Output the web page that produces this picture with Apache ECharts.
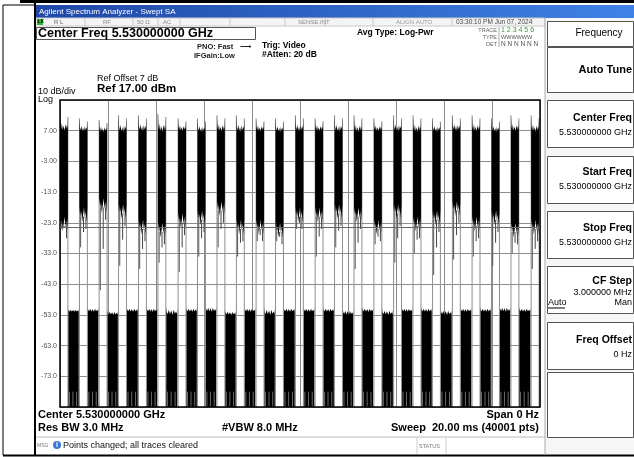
<!DOCTYPE html>
<html>
<head>
<meta charset="utf-8">
<script src="https://cdn.jsdelivr.net/npm/echarts@6/dist/echarts.min.js"></script>
<style>
  html, body { margin: 0; padding: 0; background: #fff; }
  #main { width: 634px; height: 457px; }
</style>
</head>
<body>
<div id="main"></div>
<script>
// reference level / floor (dBm)
const REF = 17;
const FLOOR = -83;

// y tick labels (dBm), top to bottom
const yTicks = ['7.00', '-3.00', '-13.0', '-23.0', '-33.0', '-43.0', '-53.0', '-63.0', '-73.0'];

// high level bursts: start time (ms), burst length (ms)
const HI_W = 0.33;
const hiStart = [0.00, 0.81, 1.63, 2.44, 3.27, 4.08, 4.92, 5.73, 6.54, 7.35, 8.17, 8.98, 9.81,
                 10.63, 11.44, 12.25, 13.08, 13.90, 14.71, 15.52, 16.35, 17.17, 17.98, 18.79, 19.63];
// dBm levels per high burst
const hiTop  = [8.5, 8.2, 8.0, 8.0, 8.3, 8.1, 8.4, 8.0, 8.2, 8.1, 8.3, 8.0, 8.2,
                8.4, 8.1, 8.0, 8.3, 8.2, 8.0, 8.1, 8.4, 8.2, 8.0, 8.3, 8.1];
const hiPeak = [12.5, 11.0, 10.5, 12.0, 12.0, 12.5, 11.0, 11.0, 12.0, 12.0, 11.0, 11.0, 12.0,
                11.0, 12.0, 12.0, 11.0, 12.0, 12.0, 11.0, 12.0, 12.0, 11.0, 12.0, 12.0];
const hiBot  = [-24, -21, -18, -20, -25, -26, -23, -22, -19, -25, -25, -26, -21,
                -21, -20, -21, -25, -20, -24, -22, -19, -24, -22, -26, -25];
const hiTail = [-25, -31, -45, -37, -38, -36, -39, -34, -31, -34, -29, -29, -25,
                -34, -31, -38, -30, -36, -33, -40, -35, -34, -37, -33, -38];

// low level bursts (between high bursts), dBm
const loTop  = [-51, -51, -52, -51, -51, -52, -51, -51, -52, -51, -52, -51,
                -51, -51, -52, -51, -52, -51, -51, -52, -51, -51, -51, -51];
const loPeak = [-50, -49, -50, -49, -49, -48, -49, -48, -50, -49, -48, -49,
                -49, -49, -49, -49, -49, -49, -49, -49, -49, -49, -48, -49];

const DISPLAY_LINE = -24.5;

const hiData = hiStart.map((s, i) => [s, hiTop[i], hiPeak[i], hiBot[i], hiTail[i]]);
const loData = loTop.map((v, i) => [hiStart[i] + HI_W, hiStart[i + 1], v, loPeak[i]]);

// ragged edge profile across a burst (fraction of width, fraction of edge depth)
const EDGE = [[0, 1], [0.06, 0.35], [0.14, 0.1], [0.24, 0.45], [0.34, 0.05], [0.46, 0.3],
              [0.58, 0], [0.68, 0.4], [0.78, 0.1], [0.88, 0.35], [0.95, 0.15], [1, 0.8]];

function seg(p, t, d1, d2, color, lw) {
    const q1 = p(t, d1), q2 = p(t, d2);
    return { type: 'line', shape: { x1: q1[0], y1: q1[1], x2: q2[0], y2: q2[1] },
             style: { stroke: color, lineWidth: lw } };
}

function renderHi(params, api) {
    const s = api.value(0), e = s + HI_W, w = HI_W;
    const top = api.value(1), peak = api.value(2), bot = api.value(3), tail = api.value(4);
    const p = (t, d) => api.coord([t, d - REF]);
    const items = [];
    items.push(seg(p, s, peak, FLOOR, '#8f8f8f', 1));
    items.push(seg(p, e, peak - 1, FLOOR, '#8f8f8f', 1));
    const pts = [];
    EDGE.forEach(([f, k]) => pts.push(p(s + f * w, top - 1.5 + k * (peak - top + 1.5))));
    EDGE.slice().reverse().forEach(([f, k], j) =>
        pts.push(p(s + f * w, bot + 3 - ((j * 7) % 5) * 1.2)));
    items.push({ type: 'polygon', shape: { points: pts }, style: { fill: '#000' } });
    items.push(seg(p, s + 0.05, bot, tail, '#555', 1));
    items.push(seg(p, s + 0.17, bot, (bot + tail) / 2, '#444', 1));
    items.push(seg(p, e - 0.06, bot, bot - 4, '#444', 1));
    return { type: 'group', children: items };
}

function renderLo(params, api) {
    const s = api.value(0) + 0.01, e = api.value(1) - 0.03, w = e - s;
    const top = api.value(2), peak = api.value(3);
    const p = (t, d) => api.coord([t, d - REF]);
    const pts = [p(s, FLOOR)];
    EDGE.forEach(([f, k]) => pts.push(p(s + f * w, top - 1 + (1 - Math.abs(0.5 - f)) * k * (peak - top + 1))));
    pts.push(p(e, FLOOR));
    const items = [{ type: 'polygon', shape: { points: pts }, style: { fill: '#000' } }];
    [s + 0.12 * w, s + 0.45 * w, s + 0.8 * w].forEach(t => items.push(seg(p, t, -78, FLOOR, '#6a6a6a', 1)));
    return { type: 'group', children: items };
}

const FONT = 'Liberation Sans, Arial, sans-serif';
function T(text, x, y, size, opt) {
    opt = opt || {};
    return {
        type: 'text', x: x, y: y, z: 10,
        style: {
            text: text,
            font: (opt.bold ? 'bold ' : '') + size + 'px ' + FONT,
            fill: opt.color || '#000',
            textAlign: opt.align || 'left',
            textVerticalAlign: 'middle'
        }
    };
}
function R(x, y, w, h, fill, stroke, lw) {
    return { type: 'rect', z: 1, shape: { x: x, y: y, width: w, height: h },
             style: { fill: fill || 'none', stroke: stroke || null, lineWidth: lw || 1 } };
}
function L(x1, y1, x2, y2, color, lw) {
    return { type: 'line', z: 2, shape: { x1: x1, y1: y1, x2: x2, y2: y2 },
             style: { stroke: color || '#000', lineWidth: lw || 1 } };
}

const ui = [];
// frame
ui.push(L(3, 5, 3, 455, '#000', 1));
ui.push(L(3, 5, 36, 5, '#000', 1));
ui.push(L(20, 1.5, 634, 1.5, '#000', 3));
ui.push(L(35, 2, 35, 456, '#000', 2));
ui.push(L(3, 455.5, 634, 455.5, '#000', 2));
// title bar
ui.push({ type: 'rect', z: 1, shape: { x: 36, y: 5, width: 598, height: 13 },
          style: { fill: new echarts.graphic.LinearGradient(0, 0, 1, 0, [
              { offset: 0, color: '#1f48a8' }, { offset: 1, color: '#3f82e6' }]) } });
ui.push(T('Agilent Spectrum Analyzer - Swept SA', 39, 11.5, 8, { color: '#fff' }));
// status row
ui.push(R(36, 18, 509, 8, '#f4f4f4', '#c8c8c8'));
ui.push(R(37, 19, 6, 6, '#2fb82f'));
ui.push(T('LX', 37.5, 22, 5, { color: '#000', bold: true }));
[85, 133, 158, 180, 230, 285, 325, 373, 452].forEach(x => ui.push(L(x, 18, x, 26, '#c8c8c8')));
ui.push(T('R L', 54, 22, 6, { color: '#666' }));
ui.push(T('RF', 103, 22, 6, { color: '#888' }));
ui.push(T('50 Ω', 137, 22, 6, { color: '#888' }));
ui.push(T('AC', 163, 22, 6, { color: '#888' }));
ui.push(T('SENSE:INT', 298, 22, 6, { color: '#888' }));
ui.push(T('ALIGN AUTO', 396, 22, 6, { color: '#999' }));
ui.push(T('03:30:10 PM Jun 07, 2024', 456, 22, 6.5, { color: '#444' }));
// center freq box
ui.push(R(36.5, 27.5, 219, 12, '#fff', '#555'));
ui.push(T('Center Freq 5.530000000 GHz', 38, 34, 12.5, { bold: true }));
ui.push(T('PNO: Fast', 197, 47, 7.5, { bold: true, color: '#222' }));
ui.push(T('⟶', 240, 47, 8, { color: '#222' }));
ui.push(T('IFGain:Low', 194, 56, 7.5, { bold: true, color: '#222' }));
ui.push(T('Trig: Video', 262, 46, 8.5, { bold: true }));
ui.push(T('#Atten: 20 dB', 262, 55, 8.5, { bold: true }));
ui.push(T('Avg Type: Log-Pwr', 357, 33, 8.5, { bold: true }));
ui.push(T('TRACE', 497, 30, 5.5, { color: '#666', align: 'right' }));
ui.push(T('TYPE', 497, 37, 5.5, { color: '#666', align: 'right' }));
ui.push(T('DET', 497, 44, 5.5, { color: '#666', align: 'right' }));
ui.push(L(499, 27, 499, 47, '#aaa'));
ui.push(T('1 2 3 4 5 6', 501, 30, 7, { color: '#3a9a3a' }));
ui.push(T('WWWWWW', 501, 37, 5.5, { color: '#555' }));
ui.push(T('N N N N N N', 501, 44, 6.5, { color: '#555' }));
ui.push(T('Ref Offset 7 dB', 97, 79, 9));
ui.push(T('Ref 17.00 dBm', 97, 89, 11.5, { bold: true }));
ui.push(T('10 dB/div', 38, 92, 9));
ui.push(T('Log', 38, 99.5, 9));
// bottom labels
ui.push(T('Center 5.530000000 GHz', 38, 414.5, 11, { bold: true }));
ui.push(T('Res BW 3.0 MHz', 38, 427.5, 11, { bold: true }));
ui.push(T('#VBW 8.0 MHz', 222, 427.5, 11, { bold: true }));
ui.push(T('Span 0 Hz', 539, 414.5, 11, { bold: true, align: 'right' }));
ui.push(T('Sweep  20.00 ms (40001 pts)', 539, 427.5, 11, { bold: true, align: 'right' }));
// message bar
ui.push(L(36, 437, 545, 437, '#bbb'));
ui.push(L(417, 438, 417, 454, '#ccc'));
ui.push(L(446, 438, 446, 454, '#ccc'));
ui.push(T('MSG', 37, 446, 5, { color: '#777' }));
ui.push({ type: 'circle', z: 3, shape: { cx: 57, cy: 445, r: 4 }, style: { fill: '#3a78d8' } });
ui.push(T('i', 57, 445, 7, { bold: true, color: '#fff', align: 'center' }));
ui.push(T('Points changed; all traces cleared', 63, 446, 9, { color: '#111' }));
ui.push(T('STATUS', 419, 446, 5.5, { color: '#777' }));
// softkey panel
ui.push(R(545, 18, 89, 437, '#f6f6f6'));
ui.push(L(545, 18, 545, 455, '#aaa'));
const keys = [
    [21, 46], [47, 92], [100, 147], [156, 203], [211, 258], [266, 313], [322, 369], [372, 437]
];
keys.forEach(([y0, y1]) => {
    ui.push(R(547.5, y0 + 0.5, 86, y1 - y0, '#fff', '#555'));
});
ui.push(T('Frequency', 599, 33, 10, { align: 'center' }));
ui.push(T('Auto Tune', 632, 70, 11, { bold: true, align: 'right' }));
const skLabels = [['Center Freq', 118, 133], ['Start Freq', 172, 187], ['Stop Freq', 228, 243],
                  ['CF Step', 281, 293], ['Freq Offset', 340, 355]];
const skValues = ['5.530000000 GHz', '5.530000000 GHz', '5.530000000 GHz', '3.000000 MHz', '0 Hz'];
skLabels.forEach(([lab, y1, y2], i) => {
    ui.push(T(lab, 632, y1, 10.5, { bold: true, align: 'right' }));
    ui.push(T(skValues[i], 632, y2, 9, { align: 'right' }));
});
ui.push(T('Auto', 548, 303, 9));
ui.push(L(548, 308, 565, 308, '#000'));
ui.push(T('Man', 632, 303, 9, { align: 'right' }));

const chart = echarts.init(document.getElementById('main'), null, { renderer: 'canvas' });
chart.setOption({
    animation: false,
    backgroundColor: '#fff',
    grid: { left: 60, right: 94, top: 100, bottom: 50, show: true, borderColor: '#000', borderWidth: 1.5, z: 5 },
    xAxis: {
        type: 'value', min: 0, max: 20, interval: 2,
        axisLine: { show: false }, axisTick: { show: false }, axisLabel: { show: false },
        splitLine: { show: true, lineStyle: { color: '#8c8c8c', width: 1 } }
    },
    yAxis: {
        type: 'value', min: -100, max: 0, interval: 10,
        axisLine: { show: false }, axisTick: { show: false },
        axisLabel: {
            margin: 3, color: '#555', fontSize: 7, fontFamily: FONT,
            formatter: v => (v <= -100 || v >= 0) ? '' : yTicks[Math.round(-v / 10) - 1]
        },
        splitLine: { show: true, lineStyle: { color: '#8c8c8c', width: 1 } }
    },
    graphic: ui,
    series: [
        { type: 'custom', clip: true, renderItem: renderLo, data: loData, z: 2 },
        { type: 'custom', clip: true, renderItem: renderHi, data: hiData, z: 3 },
        {
            type: 'line', data: [], z: 4,
            markLine: {
                silent: true, symbol: 'none', animation: false,
                lineStyle: { color: '#666', width: 1, type: 'solid' },
                label: { show: false },
                data: [{ yAxis: DISPLAY_LINE - REF }]
            }
        }
    ]
});
</script>
</body>
</html>
